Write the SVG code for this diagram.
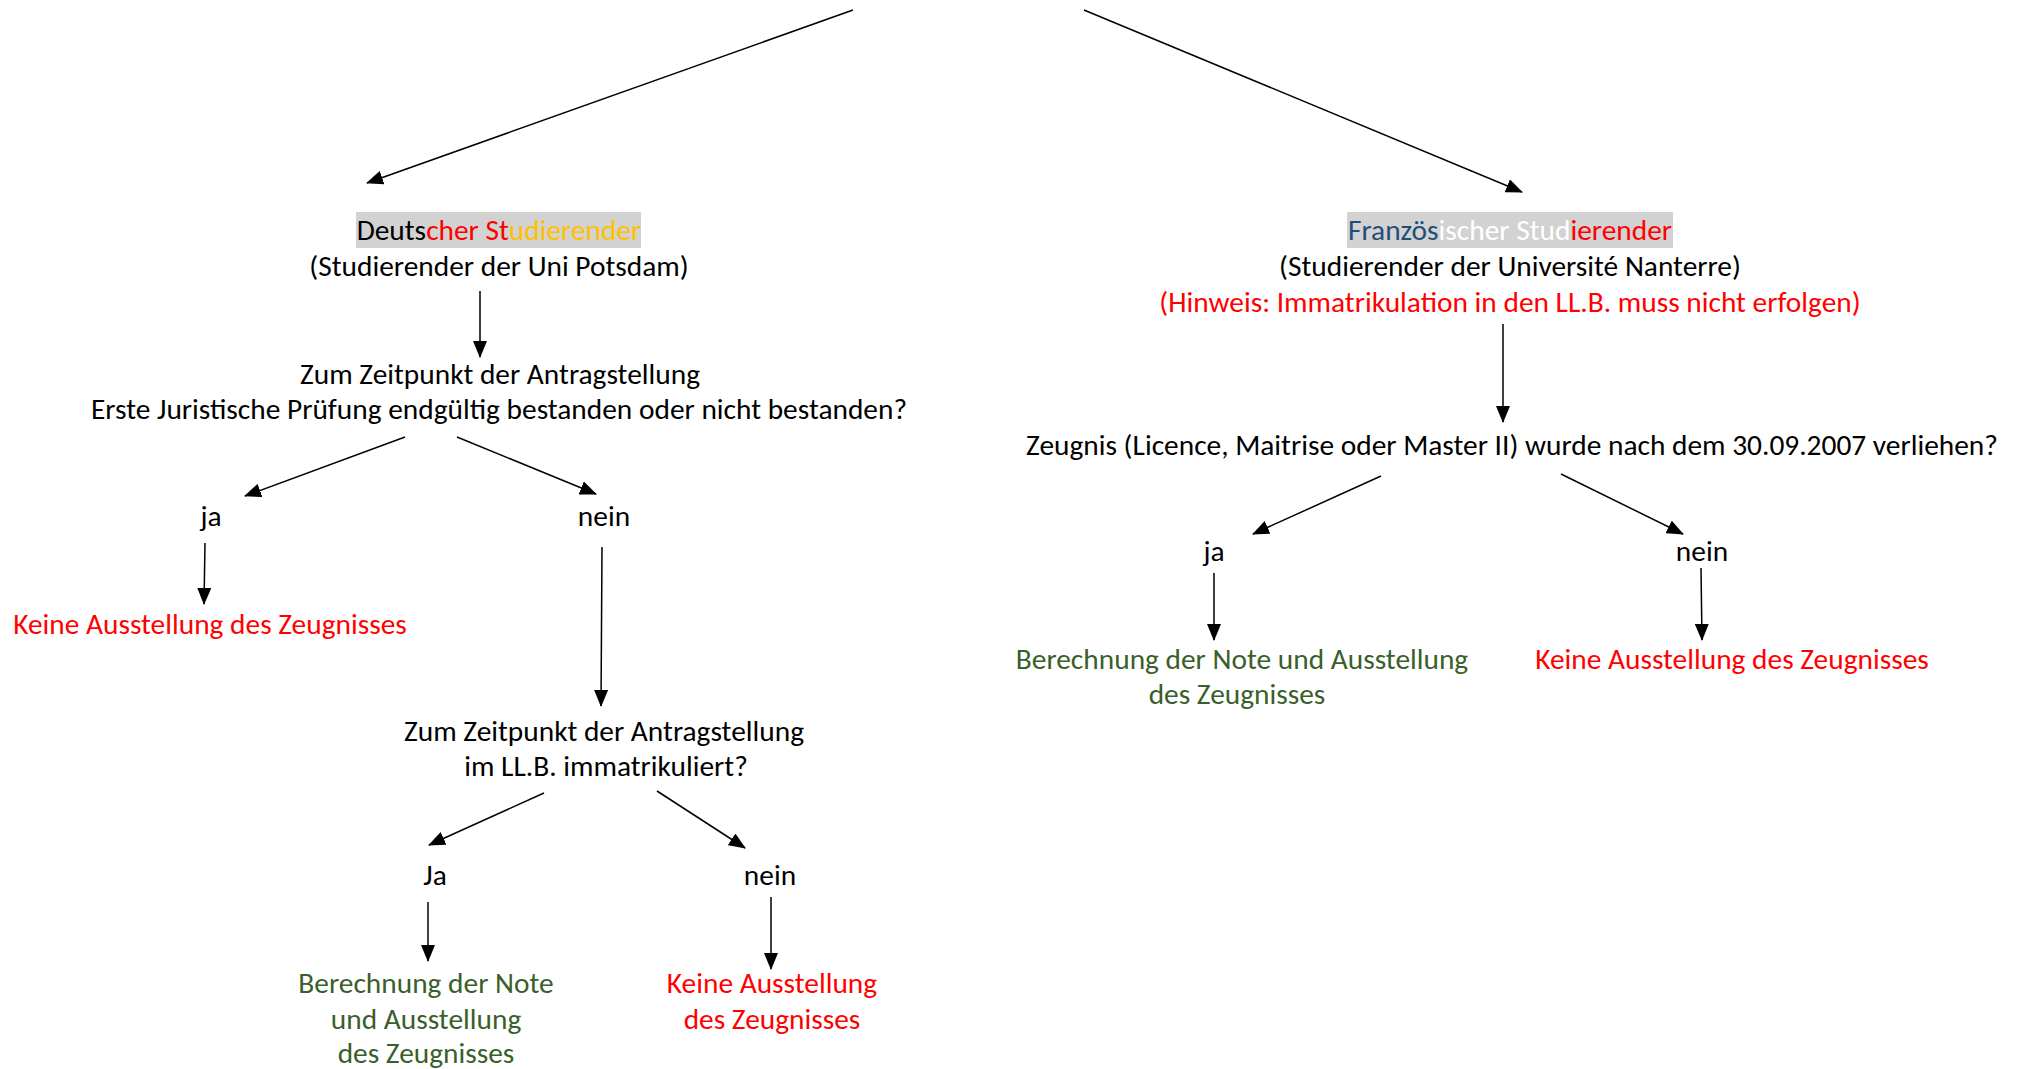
<svg xmlns="http://www.w3.org/2000/svg" width="2017" height="1069" viewBox="0 0 2017 1069">
<style>
text{font-family:Carlito,Calibri,Lato,"Liberation Sans",sans-serif;font-size:29.4px;fill:#000;text-anchor:middle}
.red{fill:#FF0000}
.green{fill:#3A5F2A}
.conn line{stroke:#000;stroke-width:1.5;marker-end:url(#ah)}
.hl{fill:#D2D2D2}
</style>
<defs>
<marker id="ah" markerUnits="userSpaceOnUse" markerWidth="18" markerHeight="14" refX="16" refY="7" orient="auto">
<path d="M0,0 L17,7 L0,14 Z" fill="#000"/>
</marker>
</defs>
<rect width="2017" height="1069" fill="#fff"/>
<g class="conn">
<line x1="853" y1="10" x2="367" y2="183"/>
<line x1="1084" y1="10" x2="1522" y2="192"/>
<line x1="480" y1="291" x2="480" y2="357"/>
<line x1="405" y1="437" x2="245" y2="496"/>
<line x1="457" y1="437" x2="596" y2="494"/>
<line x1="205" y1="543" x2="204" y2="604"/>
<line x1="602" y1="547" x2="601" y2="706"/>
<line x1="544" y1="793" x2="429" y2="845"/>
<line x1="657" y1="791" x2="745" y2="848"/>
<line x1="428" y1="902" x2="428" y2="961"/>
<line x1="771" y1="897" x2="771" y2="969"/>
<line x1="1503" y1="324" x2="1503" y2="422"/>
<line x1="1381" y1="476" x2="1253" y2="534"/>
<line x1="1561" y1="474" x2="1683" y2="534"/>
<line x1="1214" y1="573" x2="1214" y2="640"/>
<line x1="1701" y1="568" x2="1702" y2="640"/>
</g>
<g id="de">
<rect class="hl" x="356" y="212" width="285" height="36"/>
<text x="499" y="240">Deuts<tspan class="red">cher St</tspan><tspan fill="#FFC000">udierender</tspan></text>
<text x="499" y="276">(Studierender der Uni Potsdam)</text>
</g>
<g id="q1">
<text x="500" y="384">Zum Zeitpunkt der Antragstellung</text>
<text x="499" y="419">Erste Juristische Prüfung endgültig bestanden oder nicht bestanden?</text>
</g>
<g id="ja1"><text x="211" y="526">ja</text></g>
<g id="nein1"><text x="604" y="526">nein</text></g>
<g id="keine1"><text class="red" x="210" y="634">Keine Ausstellung des Zeugnisses</text></g>
<g id="q2">
<text x="604" y="741">Zum Zeitpunkt der Antragstellung</text>
<text x="606" y="776">im LL.B. immatrikuliert?</text>
</g>
<g id="ja2"><text x="435" y="885">Ja</text></g>
<g id="nein2"><text x="770" y="885">nein</text></g>
<g id="note2">
<text class="green" x="426" y="993">Berechnung der Note</text>
<text class="green" x="426" y="1029">und Ausstellung</text>
<text class="green" x="426" y="1063">des Zeugnisses</text>
</g>
<g id="keine2">
<text class="red" x="772" y="993">Keine Ausstellung</text>
<text class="red" x="772" y="1029">des Zeugnisses</text>
</g>
<g id="fr">
<rect class="hl" x="1347" y="212" width="326" height="36"/>
<text x="1510" y="240"><tspan fill="#1F4E79">Französ</tspan><tspan fill="#FFFFFF">ischer Stud</tspan><tspan class="red">ierender</tspan></text>
<text x="1510" y="276">(Studierender der Université Nanterre)</text>
<text class="red" x="1510" y="312">(Hinweis: Immatrikulation in den LL.B. muss nicht erfolgen)</text>
</g>
<g id="q3"><text x="1512" y="455">Zeugnis (Licence, Maitrise oder Master II) wurde nach dem 30.09.2007 verliehen?</text></g>
<g id="ja3"><text x="1214" y="561">ja</text></g>
<g id="nein3"><text x="1702" y="561">nein</text></g>
<g id="note3">
<text class="green" x="1242" y="669">Berechnung der Note und Ausstellung</text>
<text class="green" x="1237" y="704">des Zeugnisses</text>
</g>
<g id="keine3"><text class="red" x="1732" y="669">Keine Ausstellung des Zeugnisses</text></g>
</svg>
